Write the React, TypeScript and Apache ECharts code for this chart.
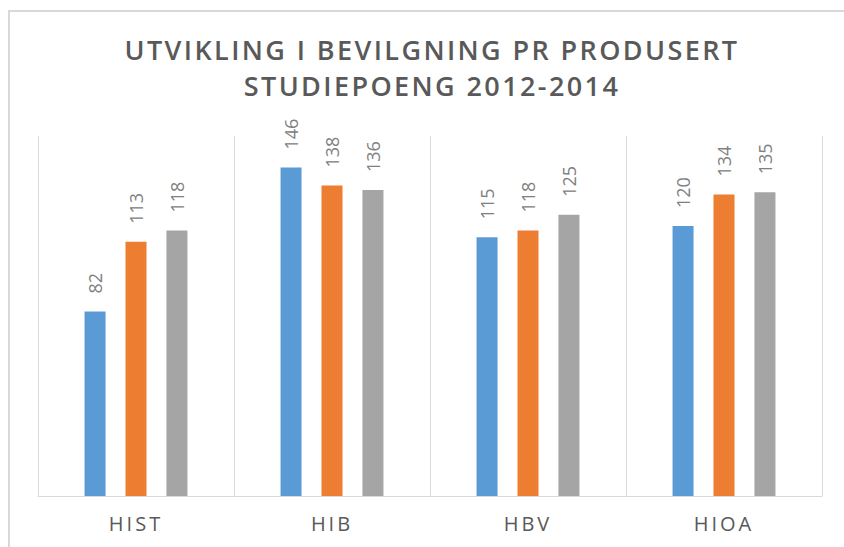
import React, { useEffect, useRef } from "react";
import * as echarts from "echarts";

const titleLines = ["UTVIKLING I BEVILGNING PR PRODUSERT", "STUDIEPOENG 2012-2014"];
const categories = ["HIST", "HIB", "HBV", "HIOA"];
const seriesNames = ["2012", "2013", "2014"];
const values2012 = [82, 146, 115, 120];
const values2013 = [113, 138, 118, 134];
const values2014 = [118, 136, 125, 135];
const colors = ["#5B9BD5", "#ED7D31", "#A5A5A5"];
const yMax = 160;

export default function App() {
  const ref = useRef<HTMLDivElement>(null);

  useEffect(() => {
    const el = ref.current!;
    const chart = echarts.init(el, null, { renderer: "svg" });
    const seriesData = [values2012, values2013, values2014];
    const font = "'Open Sans', 'DejaVu Sans', sans-serif";

    chart.setOption({
      animation: false,
      backgroundColor: "#ffffff",
      graphic: [
        {
          type: "line",
          shape: { x1: 8, y1: 11, x2: 844, y2: 11 },
          style: { stroke: "#d9d9d9", lineWidth: 2 },
          silent: true,
        },
        {
          type: "line",
          shape: { x1: 9, y1: 10, x2: 9, y2: 547 },
          style: { stroke: "#d9d9d9", lineWidth: 2 },
          silent: true,
        },
        {
          type: "text",
          x: 432,
          y: 31,
          silent: true,
          style: {
            text: titleLines.join("\n"),
            align: "center",
            verticalAlign: "top",
            fontFamily: font,
            fontSize: 27,
            fontWeight: 600,
            lineHeight: 36,
            fill: "#595959",
          },
        },
      ],
      grid: { left: 38, right: 22, top: 136, bottom: 51, containLabel: false },
      xAxis: {
        type: "category",
        data: categories,
        axisLine: { show: true, lineStyle: { color: "#d9d9d9", width: 1 } },
        axisTick: { show: false },
        splitLine: { show: true, lineStyle: { color: "#d9d9d9", width: 1 } },
        axisLabel: {
          fontFamily: font,
          fontSize: 20,
          color: "#595959",
          margin: 17,
        },
      },
      yAxis: {
        type: "value",
        min: 0,
        max: yMax,
        show: false,
        splitLine: { show: false },
      },
      series: seriesNames.map((name, i) => ({
        name,
        type: "bar",
        data: seriesData[i],
        barWidth: 21,
        barGap: "95%",
        itemStyle: { color: colors[i] },
        label: {
          show: true,
          position: "top",
          rotate: 90,
          align: "left",
          verticalAlign: "middle",
          distance: 18,
          fontFamily: font,
          fontSize: 18,
          color: "#808080",
        },
      })),
    });

    const applySpacing = () => {
      el.querySelectorAll("text").forEach((t) => {
        const txt = (t.textContent || "").trim();
        if (titleLines.includes(txt)) {
          t.setAttribute("letter-spacing", "2.4");
        } else if (categories.includes(txt)) {
          t.setAttribute("letter-spacing", "3");
        }
      });
    };
    applySpacing();
    chart.on("finished", applySpacing);

    return () => {
      chart.dispose();
    };
  }, []);

  return (
    <div
      ref={ref}
      style={{ position: "absolute", left: 0, top: 0, width: 844, height: 547, background: "#fff" }}
    />
  );
}
